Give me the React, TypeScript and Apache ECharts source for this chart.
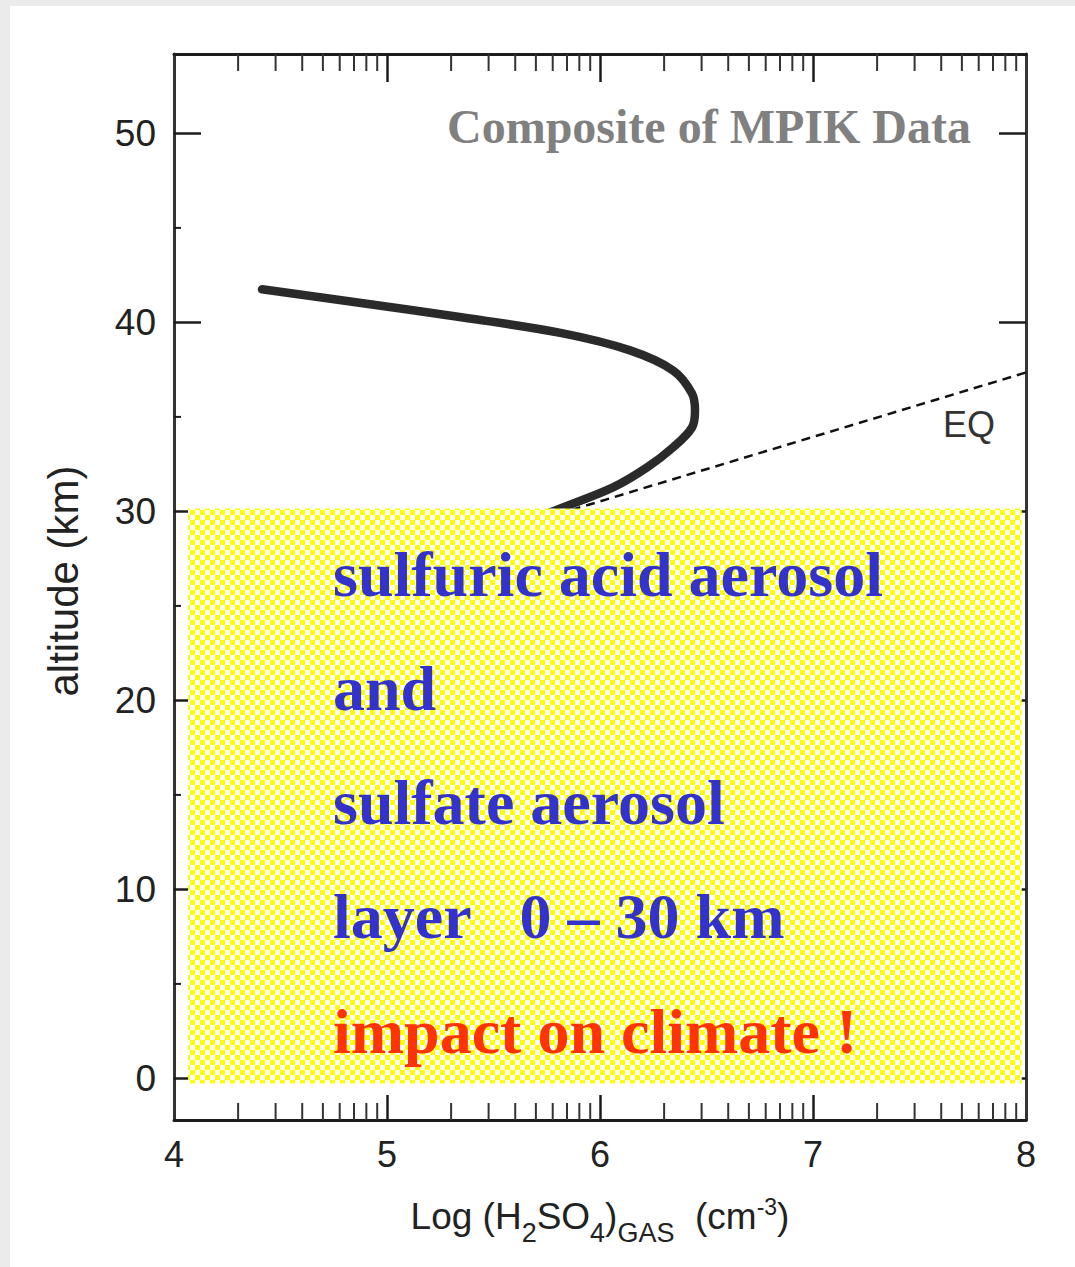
import React, { useEffect, useRef } from "react";
import * as echarts from "echarts";

// ---- data ----
const curveLogH2SO4 = [4.413, 4.887, 5.357, 5.826, 6.141, 6.343, 6.432, 6.446, 6.432, 6.343, 6.221, 6.061, 5.826, 5.671];
const curveAltitude = [41.75, 41.01, 40.26, 39.42, 38.52, 37.46, 36.24, 35.34, 34.44, 33.39, 32.33, 31.27, 30.21, 29.52];
const eqLogH2SO4 = [5.8, 8.0];
const eqAltitude = [29.85, 37.35];
const layerBox = [4.066, 30.15, 7.98, -0.27]; // xFrom, altTop, xTo, altBottom
const altMajorTicks = [0, 10, 20, 30, 40, 50];
const altMinorTicks = [5, 15, 25, 35, 45];
const logDecades = [4, 5, 6, 7];
const logMinorOffsets = [0.301, 0.477, 0.602, 0.699, 0.778, 0.845, 0.903, 0.954];
const logMajorTicks = [5, 6, 7];
const logLabels = [4, 5, 6, 7, 8];
const overlayLines = ["sulfuric acid aerosol", "and", "sulfate aerosol", "layer\u00a0\u00a0\u00a00 \u2013 30 km", "impact on climate !"];
const overlayColors = ["#3333cc", "#3333cc", "#3333cc", "#3333cc", "#ff3300"];

const SANS = '"Liberation Sans", Arial, sans-serif';
const SERIF = '"Liberation Serif", "Times New Roman", serif';

function makeChecker(): string {
  const c = document.createElement("canvas");
  const s = 5;
  c.width = s * 2;
  c.height = s * 2;
  const ctx = c.getContext("2d")!;
  ctx.fillStyle = "#ffffff";
  ctx.fillRect(0, 0, s * 2, s * 2);
  ctx.fillStyle = "#ffff00";
  ctx.fillRect(0, 0, s, s);
  ctx.fillRect(s, s, s, s);
  return c.toDataURL("image/png");
}

export default function App() {
  const ref = useRef<HTMLDivElement>(null);
  useEffect(() => {
    document.body.style.margin = "0";
    if (!ref.current) return;
    const chart = echarts.init(ref.current, undefined, { renderer: "svg" });
    const minorLogTicks: number[] = [];
    logDecades.forEach((d) => logMinorOffsets.forEach((o) => minorLogTicks.push(+(d + o).toFixed(3))));
    const checker = makeChecker();
    const axisColor = "#1c1c1c";

    const xBase = { type: "value", min: 4, max: 8, splitLine: { show: false } };
    const yBase = { type: "value", min: -2.2, max: 54.2, splitLine: { show: false } };

    chart.setOption({
      animation: false,
      backgroundColor: "#ffffff",
      grid: { left: 174, right: 49, top: 54, bottom: 147 },
      xAxis: [
        {
          ...xBase,
          position: "bottom",
          axisLine: { show: true, onZero: false, lineStyle: { color: axisColor, width: 3 } },
          axisTick: { show: true, inside: true, length: 25, customValues: logMajorTicks, lineStyle: { color: axisColor, width: 2.5 } },
          axisLabel: { show: true, customValues: logLabels, margin: 16, fontSize: 36, fontFamily: SANS, color: "#222" },
          name: "{n|Log (H}{s|2}{n|SO}{s|4}{n|)}{g|GAS}{n|\u00a0\u00a0(cm}{p|-3}{n|)}",
          nameLocation: "middle",
          nameGap: 66,
          nameTextStyle: {
            color: "#222",
            fontFamily: SANS,
            rich: {
              n: { fontSize: 37, lineHeight: 60, fontFamily: SANS, color: "#222" },
              s: { fontSize: 27, lineHeight: 28, verticalAlign: "bottom", fontFamily: SANS, color: "#222" },
              g: { fontSize: 27, lineHeight: 22, verticalAlign: "bottom", fontFamily: SANS, color: "#222" },
              p: { fontSize: 23, lineHeight: 24, padding: [9, 0, 0, 0], verticalAlign: "top", fontFamily: SANS, color: "#222" },
            },
          },
        },
        {
          ...xBase,
          position: "top",
          axisLine: { show: true, onZero: false, lineStyle: { color: axisColor, width: 3 } },
          axisTick: { show: true, inside: true, length: 28, customValues: logMajorTicks, lineStyle: { color: axisColor, width: 2.5 } },
          axisLabel: { show: false },
        },
      ],
      yAxis: [
        {
          ...yBase,
          position: "left",
          axisLine: { show: true, onZero: false, lineStyle: { color: "#333", width: 3 } },
          axisTick: { show: true, inside: true, length: 27, customValues: altMajorTicks, lineStyle: { color: axisColor, width: 2.5 } },
          axisLabel: { show: true, customValues: altMajorTicks, margin: 18, fontSize: 37, fontFamily: SANS, color: "#222" },
          name: "altitude (km)",
          nameLocation: "middle",
          nameGap: 90,
          nameRotate: 90,
          nameTextStyle: { fontSize: 42, fontFamily: SANS, color: "#222", padding: [0, 0, 0, 12] },
        },
        {
          ...yBase,
          position: "right",
          axisLine: { show: true, onZero: false, lineStyle: { color: "#333", width: 3 } },
          axisTick: { show: true, inside: true, length: 27, customValues: altMajorTicks, lineStyle: { color: axisColor, width: 2.5 } },
          axisLabel: { show: false },
        },
      ],
      series: [
        {
          type: "custom",
          name: "log minor ticks",
          xAxisIndex: 0,
          yAxisIndex: 0,
          z: 2,
          silent: true,
          clip: false,
          data: minorLogTicks.map((v) => [v, 0]),
          renderItem: (params: any, api: any) => {
            const cs = params.coordSys;
            const x = api.coord([api.value(0), 0])[0];
            const st = { stroke: "#333", lineWidth: 2 };
            return {
              type: "group",
              children: [
                { type: "line", shape: { x1: x, y1: cs.y + cs.height, x2: x, y2: cs.y + cs.height - 17 }, style: st },
                { type: "line", shape: { x1: x, y1: cs.y, x2: x, y2: cs.y + 17 }, style: st },
              ],
            };
          },
        },
        {
          type: "custom",
          name: "altitude minor ticks",
          xAxisIndex: 0,
          yAxisIndex: 0,
          z: 2,
          silent: true,
          clip: false,
          data: altMinorTicks.map((v) => [4, v]),
          renderItem: (params: any, api: any) => {
            const cs = params.coordSys;
            const y = api.coord([4, api.value(1)])[1];
            return {
              type: "line",
              shape: { x1: cs.x, y1: y, x2: cs.x + 7, y2: y },
              style: { stroke: "#1c1c1c", lineWidth: 2 },
            };
          },
        },
        {
          type: "line",
          name: "composite",
          xAxisIndex: 0,
          yAxisIndex: 0,
          z: 3,
          smooth: 0.35,
          symbol: "none",
          lineStyle: { color: "#2a2a2a", width: 8.5, cap: "round", join: "round" },
          data: curveLogH2SO4.map((x, i) => [x, curveAltitude[i]]),
        },
        {
          type: "line",
          name: "EQ",
          xAxisIndex: 0,
          yAxisIndex: 0,
          z: 3,
          symbol: "none",
          lineStyle: { color: "#111", width: 2.5, type: [9, 6] },
          data: eqLogH2SO4.map((x, i) => [x, eqAltitude[i]]),
        },
        {
          type: "custom",
          name: "layer",
          xAxisIndex: 0,
          yAxisIndex: 0,
          z: 10,
          silent: true,
          data: [layerBox],
          renderItem: (params: any, api: any) => {
            const p0 = api.coord([api.value(0), api.value(1)]);
            const p1 = api.coord([api.value(2), api.value(3)]);
            return {
              type: "rect",
              shape: { x: p0[0], y: p0[1], width: p1[0] - p0[0], height: p1[1] - p0[1] },
              style: { fill: { image: checker, repeat: "repeat", imageWidth: 10, imageHeight: 10 } },
            };
          },
        },
      ],
      graphic: [
        {
          type: "text",
          z: 100,
          x: 447,
          y: 126,
          style: {
            text: "Composite of MPIK Data",
            fontSize: 48,
            fontWeight: "bold",
            fontFamily: SERIF,
            fill: "#808080",
            align: "left",
            verticalAlign: "middle",
          },
        },
        {
          type: "text",
          z: 100,
          x: 943,
          y: 424,
          style: { text: "EQ", fontSize: 36, fontFamily: SANS, fill: "#333", align: "left", verticalAlign: "middle" },
        },
        ...overlayLines.map((t, i) => ({
          type: "text",
          z: 100,
          x: 333,
          y: 574 + i * 114.3,
          style: {
            text: t,
            fontSize: 64,
            fontWeight: "bold",
            fontFamily: SERIF,
            fill: overlayColors[i],
            align: "left",
            verticalAlign: "middle",
          },
        })),
      ],
    });
    return () => chart.dispose();
  }, []);

  return (
    <div style={{ width: 1075, height: 1267, background: "#ebebeb", position: "relative", overflow: "hidden" }}>
      <div ref={ref} style={{ position: "absolute", left: 0, top: 0, width: 1075, height: 1267 }} />
      <div style={{ position: "absolute", left: 0, top: 0, width: 10, height: 1267, background: "#ebebeb", pointerEvents: "none" }} />
      <div style={{ position: "absolute", left: 0, top: 0, width: 1075, height: 6, background: "#ebebeb", pointerEvents: "none" }} />
    </div>
  );
}
